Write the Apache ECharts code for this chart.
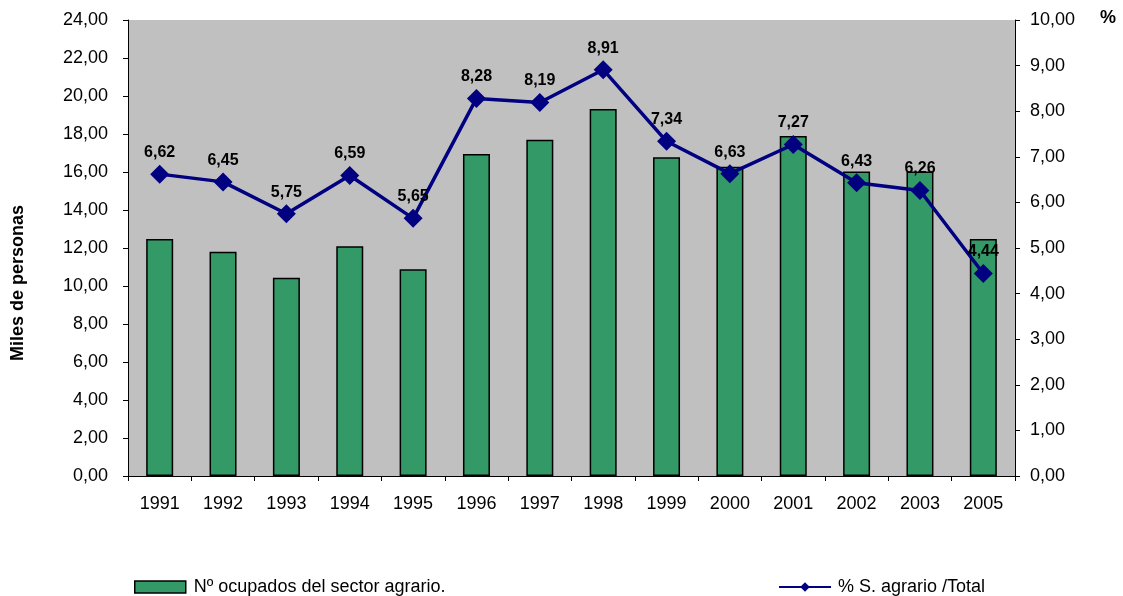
<!DOCTYPE html>
<html>
<head>
<meta charset="utf-8">
<script src="https://cdn.jsdelivr.net/npm/echarts@6/dist/echarts.min.js"></script>
<style>
  html, body { margin: 0; padding: 0; background: #fff; }
  #main { width: 1123px; height: 596px; }
</style>
</head>
<body>
<div id="main"></div>
<script>
const years = ["1991", "1992", "1993", "1994", "1995", "1996", "1997", "1998", "1999", "2000", "2001", "2002", "2003", "2005"];
const ocupados = [12.47, 11.8, 10.44, 12.09, 10.88, 16.95, 17.7, 19.32, 16.77, 16.28, 17.89, 16.02, 16.02, 12.47];
const pctAgrario = [6.62, 6.45, 5.75, 6.59, 5.65, 8.28, 8.19, 8.91, 7.34, 6.63, 7.27, 6.43, 6.26, 4.44];

const font = "Liberation Sans, Arial, sans-serif";
const comma = v => v.toFixed(2).replace(".", ",");

const chart = echarts.init(document.getElementById("main"));
chart.setOption({
  backgroundColor: "#ffffff",
  textStyle: { fontFamily: font },
  grid: { left: 128, right: 108, top: 20, bottom: 120, backgroundColor: "#c0c0c0", show: true, borderWidth: 0 },
  graphic: [
    {
      type: "text",
      x: 18, y: 283,
      rotation: Math.PI / 2,
      style: {
        text: "Miles de personas",
        font: "bold 18px " + font,
        fill: "#000",
        align: "center",
        verticalAlign: "middle"
      }
    },
    {
      type: "text",
      x: 1100, y: 18,
      style: {
        text: "%",
        font: "bold 18px " + font,
        fill: "#000",
        align: "left",
        verticalAlign: "middle"
      }
    }
  ],
  legend: [
    {
      left: 134, top: 578, padding: 0,
      itemWidth: 51, itemHeight: 12, itemGap: 0,
      textStyle: { fontSize: 18, color: "#000", fontFamily: font, padding: [0, 0, 0, 3] },
      data: [{ name: "Nº ocupados del sector agrario.", icon: "rect", itemStyle: { borderColor: "#000", borderWidth: 1.5 } }]
    },
    {
      left: 778, top: 578, padding: 0,
      itemWidth: 52, itemHeight: 12,
      textStyle: { fontSize: 18, color: "#000", fontFamily: font, padding: [0, 0, 0, 2] },
      data: ["% S. agrario /Total"]
    }
  ],
  xAxis: {
    type: "category",
    data: years,
    axisLine: { lineStyle: { color: "#000" } },
    axisTick: { show: true, length: 5, lineStyle: { color: "#000" } },
    axisLabel: { color: "#000", fontSize: 18, margin: 19, fontFamily: font }
  },
  yAxis: [
    {
      type: "value",
      min: 0, max: 24, interval: 2,
      axisLine: { show: true, lineStyle: { color: "#000" } },
      axisTick: { show: true, length: 5, lineStyle: { color: "#000" } },
      axisLabel: { color: "#000", fontSize: 18, margin: 20, formatter: comma, fontFamily: font },
      splitLine: { show: false }
    },
    {
      type: "value",
      min: 0, max: 10, interval: 1,
      position: "right",
      axisLine: { show: true, lineStyle: { color: "#000" } },
      axisTick: { show: true, length: 5, lineStyle: { color: "#000" } },
      axisLabel: { color: "#000", fontSize: 18, margin: 15, formatter: comma, fontFamily: font },
      splitLine: { show: false }
    }
  ],
  series: [
    {
      name: "Nº ocupados del sector agrario.",
      type: "bar",
      yAxisIndex: 0,
      data: ocupados,
      barWidth: 27,
      itemStyle: { color: "#339966", borderColor: "#000", borderWidth: 1.5 }
    },
    {
      name: "% S. agrario /Total",
      type: "line",
      yAxisIndex: 1,
      data: pctAgrario,
      symbol: "diamond",
      symbolSize: 19,
      lineStyle: { color: "#000080", width: 3.5 },
      itemStyle: { color: "#000080" },
      label: {
        show: true,
        position: "top",
        distance: 4,
        fontWeight: "bold",
        fontSize: 16,
        color: "#000",
        fontFamily: font,
        formatter: p => comma(p.value)
      }
    }
  ]
});
</script>
</body>
</html>
